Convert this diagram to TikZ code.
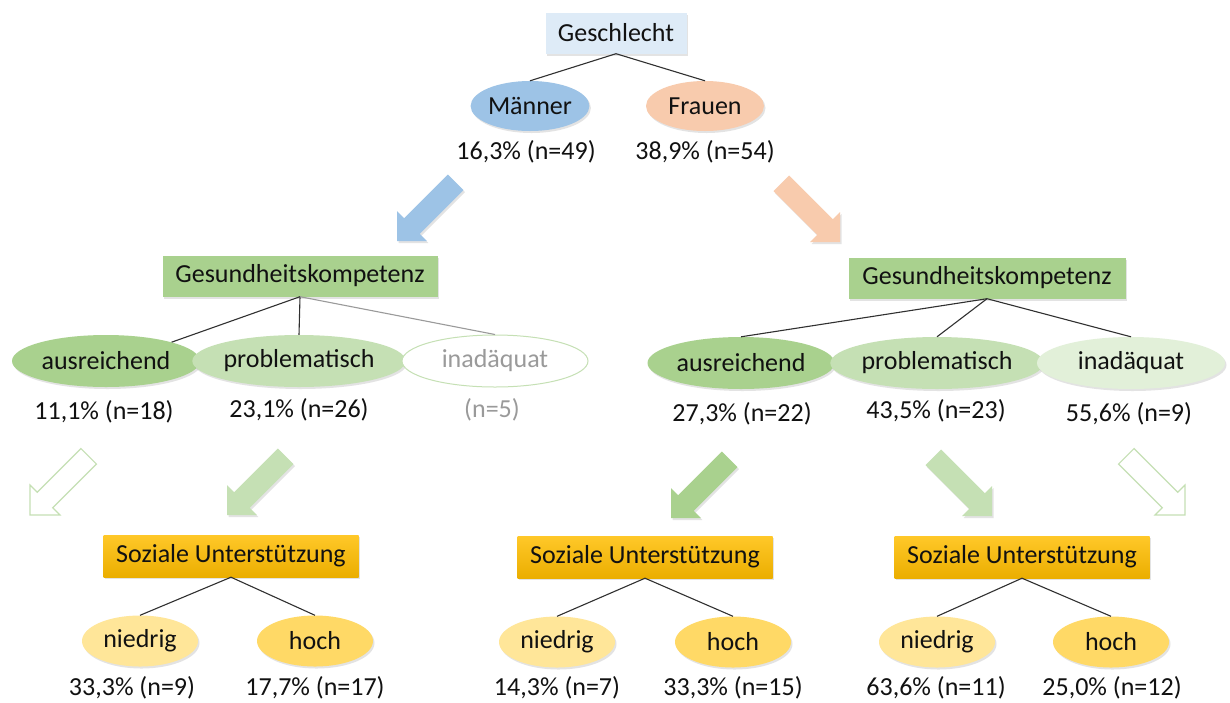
\documentclass[tikz,border=0pt]{standalone}
\usepackage{fontspec}
\setmainfont{Carlito}
\usetikzlibrary{shapes.geometric,shadows}
\definecolor{txt}{HTML}{111111}
\definecolor{grtxt}{HTML}{9A9A9A}
\definecolor{linec}{HTML}{303030}
\definecolor{lblue}{HTML}{DEEBF7}
\definecolor{mblue}{HTML}{9DC3E6}
\definecolor{peach}{HTML}{F8CBAD}
\definecolor{green1}{HTML}{A9D18E}
\definecolor{green2}{HTML}{C5E0B4}
\definecolor{green3}{HTML}{E2F0D9}
\definecolor{yel1}{HTML}{FFE699}
\definecolor{yel2}{HTML}{FFD966}
\definecolor{goldtop}{HTML}{FFC829}
\definecolor{goldbot}{HTML}{EBAE00}
\newcommand\blkarrow[3]{%
  \begin{scope}[shift={#2}, rotate=#3]
    \path[#1] (0,0) -- (-21.2,21.2) -- (-21.2,11) -- (-83,11) -- (-83,-11)
      -- (-21.2,-11) -- (-21.2,-21.2) -- cycle;
  \end{scope}}
\tikzset{
  every node/.style={font=\fontsize{26}{31}\selectfont, text=txt},
  shade1/.style={drop shadow={opacity=0.22, shadow xshift=1.5pt, shadow yshift=-2pt}},
  rbox/.style={rectangle, inner sep=0pt, minimum height=41pt, shade1},
  oval/.style={ellipse, inner sep=0pt, minimum height=51pt, shade1},
  pct/.style={inner sep=0pt},
  link/.style={draw=linec, line width=1.1pt},
  glink/.style={draw=grtxt, line width=1.1pt},
  farrow/.style={fill=#1, shade1},
  harrow/.style={fill=white, draw=green2, line width=1.2pt},
}
\begin{document}
\begin{tikzpicture}[x=1pt, y=-1pt]
\fill[white] (0,0) rectangle (1230,702);
\useasboundingbox (0,0) rectangle (1230,702);

% top level
\node[rbox, fill=lblue, minimum width=141pt] (gesch) at (616,33) {Geschlecht};
\node[oval, fill=mblue, minimum width=118pt, minimum height=50pt] (maen) at (530,106) {Männer};
\node[oval, fill=peach, minimum width=118pt, minimum height=50pt] (frau) at (705,106) {Frauen};
\node[pct] (pmaen) at (526,152) {16,3\% (n=49)};
\node[pct] (pfrau) at (705,152) {38,9\% (n=54)};
\draw[link] (gesch.south) -- (maen.north);
\draw[link] (gesch.south) -- (frau.north);

\blkarrow{farrow=mblue}{(397,241)}{225}
\blkarrow{farrow=peach}{(840,242)}{-45}

% left middle
\node[rbox, fill=green1, minimum width=275pt] (gkL) at (300,276) {Gesundheitskompetenz};
\node[oval, fill=green1, minimum width=188pt, minimum height=52pt] (ausL) at (106,361) {ausreichend};
\node[oval, fill=green2, minimum width=188pt, minimum height=52pt] (probL) at (299,361) {problematisch};
\node[ellipse, inner sep=0pt, draw=green2, line width=1pt, fill=white, minimum width=186pt, minimum height=52pt, text=grtxt] (inadL) at (495,361) {inadäquat};
\node[pct] (pausL) at (104,412) {11,1\% (n=18)};
\node[pct] (pprobL) at (299,410) {23,1\% (n=26)};
\node[pct, text=grtxt] (pinadL) at (492,410) {(n=5)};
\draw[link] (gkL.south) -- (ausL.16);
\draw[link] (gkL.south) -- (probL.north);
\draw[glink] (gkL.south) -- (inadL.north);

% right middle
\node[rbox, fill=green1, minimum width=277pt] (gkR) at (987,278) {Gesundheitskompetenz};
\node[oval, fill=green1, minimum width=187pt, minimum height=52pt] (ausR) at (741,363) {ausreichend};
\node[oval, fill=green2, minimum width=189pt, minimum height=52pt] (probR) at (937,363) {problematisch};
\node[oval, fill=green3, minimum width=188pt, minimum height=52pt] (inadR) at (1131,363) {inadäquat};
\node[pct] (pausR) at (742,414) {27,3\% (n=22)};
\node[pct] (pprobR) at (936,411) {43,5\% (n=23)};
\node[pct] (pinadR) at (1129,414) {55,6\% (n=9)};
\draw[link] (gkR.south) -- (ausR.north);
\draw[link] (gkR.south) -- (probR.north);
\draw[link] (gkR.south) -- (inadR.north);

% arrows to bottom level
\blkarrow{harrow}{(30,515)}{225}
\blkarrow{farrow=green2}{(227,515)}{225}
\blkarrow{farrow=green1}{(671,518)}{225}
\blkarrow{farrow=green2}{(992,516)}{-45}
\blkarrow{harrow}{(1185,515)}{-45}

% bottom level
\tikzset{sbox/.style={rbox, minimum width=255pt, minimum height=42pt, top color=goldtop, bottom color=goldbot}}
\node[sbox] (suL) at (231,556) {Soziale Unterstützung};
\node[sbox] (suM) at (645,557) {Soziale Unterstützung};
\node[sbox] (suR) at (1022,557) {Soziale Unterstützung};

\tikzset{nied/.style={oval, fill=yel1, minimum width=116pt}, hoch/.style={oval, fill=yel2, minimum width=116pt}}
\node[nied] (niedL) at (140,641) {niedrig};
\node[hoch] (hochL) at (315,641) {hoch};
\node[nied] (niedM) at (557,642) {niedrig};
\node[hoch] (hochM) at (733,642) {hoch};
\node[nied] (niedR) at (937,642) {niedrig};
\node[hoch] (hochR) at (1111,642) {hoch};

\node[pct] (pnL) at (132,688) {33,3\% (n=9)};
\node[pct] (phL) at (315,688) {17,7\% (n=17)};
\node[pct] (pnM) at (557,688) {14,3\% (n=7)};
\node[pct] (phM) at (733,688) {33,3\% (n=15)};
\node[pct] (pnR) at (936,688) {63,6\% (n=11)};
\node[pct] (phR) at (1112,688) {25,0\% (n=12)};

\foreach \s/\a/\b in {suL/niedL/hochL, suM/niedM/hochM, suR/niedR/hochR}{
  \draw[link] (\s.south) -- (\a.north);
  \draw[link] (\s.south) -- (\b.north);
}
\end{tikzpicture}
\end{document}
